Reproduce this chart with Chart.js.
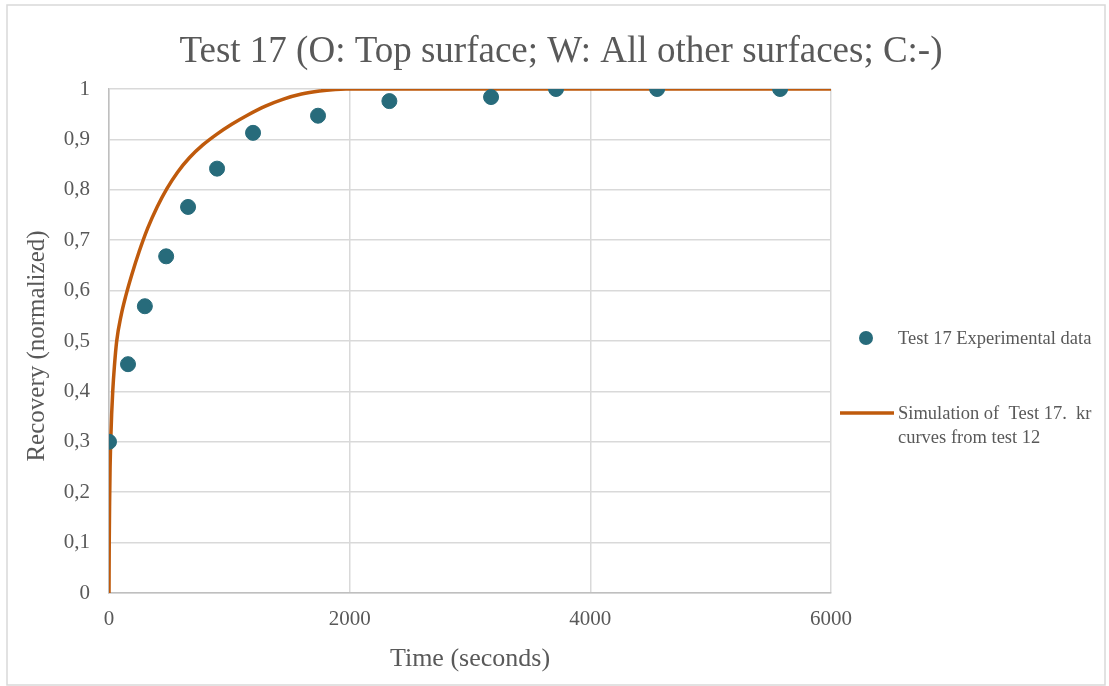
<!DOCTYPE html>
<html>
<head>
<meta charset="utf-8">
<script src="https://cdn.jsdelivr.net/npm/chart.js@4/dist/chart.umd.min.js"></script>
<style>
  html, body { margin: 0; padding: 0; background: #ffffff; }
  #wrap { position: relative; width: 1109px; height: 686px; }
  canvas { display: block; }
</style>
</head>
<body>
<div id="wrap"><canvas id="c" width="1109" height="686"></canvas></div>
<script>
// Measured recovery (normalized) versus time in seconds
const expTime = [0, 158, 298, 475, 657, 898, 1197, 1737, 2330, 3175, 3715, 4555, 5577];
const expRecovery = [0.30, 0.454, 0.569, 0.668, 0.766, 0.842, 0.913, 0.947, 0.976, 0.984, 1.0, 1.0, 1.0];

// Simulated recovery curve
const simTime = [0, 2, 5, 9, 14, 22, 31, 45, 64, 100, 140, 190, 250, 320, 400, 480, 570, 670, 780, 900, 1020, 1150, 1300, 1450, 1600, 1750, 1880, 1970, 6000];
const simRecovery = [0, 0.10, 0.18, 0.25, 0.30, 0.355, 0.40, 0.45, 0.50, 0.55, 0.59, 0.632, 0.677, 0.723, 0.766, 0.802, 0.835, 0.864, 0.889, 0.911, 0.93, 0.948, 0.966, 0.98, 0.99, 0.996, 0.999, 1.0, 1.0];

const xTicks = [0, 2000, 4000, 6000];
const yTicks = [0, 0.1, 0.2, 0.3, 0.4, 0.5, 0.6, 0.7, 0.8, 0.9, 1];

const titleText = 'Test 17 (O: Top surface; W: All other surfaces; C:-)';
const xTitle = 'Time (seconds)';
const yTitle = 'Recovery (normalized)';
const expLabel = 'Test 17 Experimental data';
const simLabel = ['Simulation of  Test 17.  kr', 'curves from test 12'];

const teal = '#276b7b';
const rust = '#bf5a0c';
const textColor = '#595959';
const gridColor = '#d9d9d9';
const serif = '"Liberation Serif", "Times New Roman", serif';

const toPoints = (xs, ys) => xs.map((x, i) => ({ x: x, y: ys[i] }));

// Frame, title, axis titles and the side legend
const decorations = {
  id: 'decorations',
  beforeDraw(chart) {
    const ctx = chart.ctx;
    ctx.save();
    ctx.fillStyle = '#ffffff';
    ctx.fillRect(0, 0, chart.width, chart.height);
    ctx.strokeStyle = '#d9d9d9';
    ctx.lineWidth = 1.5;
    ctx.strokeRect(7, 5, 1098, 680);
    ctx.restore();
  },
  afterDraw(chart) {
    const ctx = chart.ctx;
    const area = chart.chartArea;
    ctx.save();
    ctx.fillStyle = textColor;
    ctx.textAlign = 'center';
    ctx.textBaseline = 'middle';
    ctx.font = '37px ' + serif;
    ctx.fillText(titleText, 561, 52);

    ctx.font = '26px ' + serif;
    ctx.fillText(xTitle, (area.left + area.right) / 2, 659);

    ctx.save();
    ctx.translate(37, 346);
    ctx.rotate(-Math.PI / 2);
    ctx.font = '25px ' + serif;
    ctx.fillText(yTitle, 0, 0);
    ctx.restore();

    // legend
    const ds = chart.data.datasets;
    ctx.font = '18.5px ' + serif;
    ctx.textAlign = 'left';
    ctx.fillStyle = ds[0].backgroundColor;
    ctx.beginPath();
    ctx.arc(866, 338, 7, 0, Math.PI * 2);
    ctx.fill();
    ctx.fillStyle = textColor;
    ctx.fillText(expLabel, 898, 339);

    ctx.strokeStyle = ds[1].borderColor;
    ctx.lineWidth = 3.5;
    ctx.beginPath();
    ctx.moveTo(840, 413);
    ctx.lineTo(894, 413);
    ctx.stroke();
    ctx.fillText(simLabel[0], 898, 414);
    ctx.fillText(simLabel[1], 898, 438);
    ctx.restore();
  }
};

const fmtY = v => (v === 0 || v === 1) ? String(v) : v.toFixed(1).replace('.', ',');

new Chart(document.getElementById('c'), {
  type: 'scatter',
  data: {
    datasets: [
      {
        label: expLabel,
        data: toPoints(expTime, expRecovery),
        backgroundColor: teal,
        borderColor: teal,
        pointRadius: 7.5,
        pointHoverRadius: 7.5,
        showLine: false,
        order: 1
      },
      {
        label: simLabel.join(' '),
        data: toPoints(simTime, simRecovery),
        borderColor: rust,
        backgroundColor: rust,
        borderWidth: 3.5,
        pointRadius: 0,
        showLine: true,
        cubicInterpolationMode: 'monotone',
        order: 2
      }
    ]
  },
  options: {
    responsive: false,
    animation: false,
    events: [],
    layout: { padding: { left: 10, top: 89, right: 278, bottom: 10 } },
    plugins: {
      legend: { display: false },
      title: { display: false },
      tooltip: { enabled: false }
    },
    scales: {
      x: {
        type: 'linear',
        min: 0,
        max: 6000,
        afterBuildTicks: axis => { axis.ticks = xTicks.map(v => ({ value: v })); },
        afterFit: axis => { axis.height = 83; },
        grid: { color: gridColor, lineWidth: 1.5, drawTicks: false },
        border: { color: '#bfbfbf', width: 1.5 },
        ticks: {
          color: textColor,
          font: { family: serif, size: 21 },
          padding: 14,
          callback: v => String(v)
        }
      },
      y: {
        type: 'linear',
        min: 0,
        max: 1,
        afterBuildTicks: axis => { axis.ticks = yTicks.map(v => ({ value: v })); },
        afterFit: axis => { axis.width = 99; },
        grid: { color: gridColor, lineWidth: 1.5, drawTicks: false },
        border: { color: '#bfbfbf', width: 1.5 },
        ticks: {
          color: textColor,
          font: { family: serif, size: 21 },
          padding: 19,
          callback: v => fmtY(v)
        }
      }
    }
  },
  plugins: [decorations]
});
</script>
</body>
</html>
